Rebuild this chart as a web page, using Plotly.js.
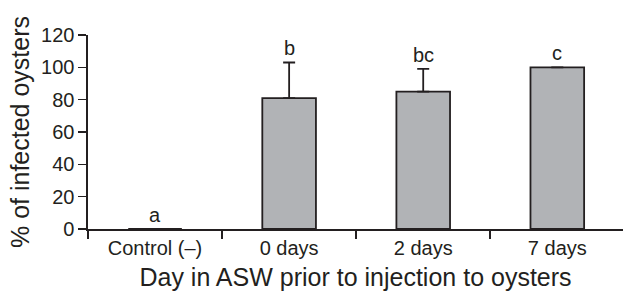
<!DOCTYPE html>
<html>
<head>
<meta charset="utf-8">
<script src="https://cdn.plot.ly/plotly-3.0.1.min.js"></script>
<style>html,body{margin:0;padding:0;background:#fff;}#chart{width:623px;height:294px;}</style>
</head>
<body>
<div id="chart"></div>
<script>
const categories = ["Control (\u2013)", "0 days", "2 days", "7 days"];
const infected = [0, 81, 85, 100];
const errorUp = [0, 22, 14, 0];
const letters = ["a", "b", "bc", "c"];
const yTicks = [0, 20, 40, 60, 80, 100, 120];

const ink = "#231f20";
const font = "Liberation Sans, Arial, Helvetica, sans-serif";

const trace = {
  type: "bar",
  x: categories,
  y: infected,
  marker: { color: "#b1b3b6", line: { color: ink, width: 1.8 } },
  width: 0.4,
  error_y: {
    type: "data", symmetric: false, array: errorUp,
    arrayminus: errorUp.map(() => 0),
    color: ink, thickness: 1.8, width: 6
  },
  hoverinfo: "none"
};

const annotations = categories.map((c, i) => ({
  x: c, y: infected[i] + errorUp[i], xref: "x", yref: "y",
  text: letters[i], showarrow: false, yanchor: "bottom", yshift: 1,
  font: { family: font, size: 20, color: ink }
}));

const layout = {
  width: 623, height: 294,
  margin: { l: 88, r: 0, t: 35, b: 65 },
  paper_bgcolor: "#fff", plot_bgcolor: "#fff",
  showlegend: false,
  font: { family: font, color: ink },
  xaxis: {
    type: "category",
    range: [-0.5, 3.49],
    tickson: "boundaries",
    ticks: "outside", ticklen: 8, tickwidth: 1.6, tickcolor: ink,
    showline: true, linecolor: ink, linewidth: 1.6,
    showgrid: false, zeroline: false,
    tickfont: { family: font, size: 20, color: ink },
    title: { text: "Day in ASW prior to injection to oysters", font: { family: font, size: 25, color: ink }, standoff: 11 }
  },
  yaxis: {
    range: [0, 120],
    tickvals: yTicks,
    ticks: "outside", ticklen: 8, tickwidth: 1.6, tickcolor: ink,
    showline: true, linecolor: ink, linewidth: 1.6,
    showgrid: false, zeroline: false,
    tickfont: { family: font, size: 20, color: ink },
    title: { text: "% of infected oysters", font: { family: font, size: 25, color: ink }, standoff: 4 }
  },
  annotations: annotations
};

Plotly.newPlot("chart", [trace], layout, { displayModeBar: false, staticPlot: true });
</script>
</body>
</html>
